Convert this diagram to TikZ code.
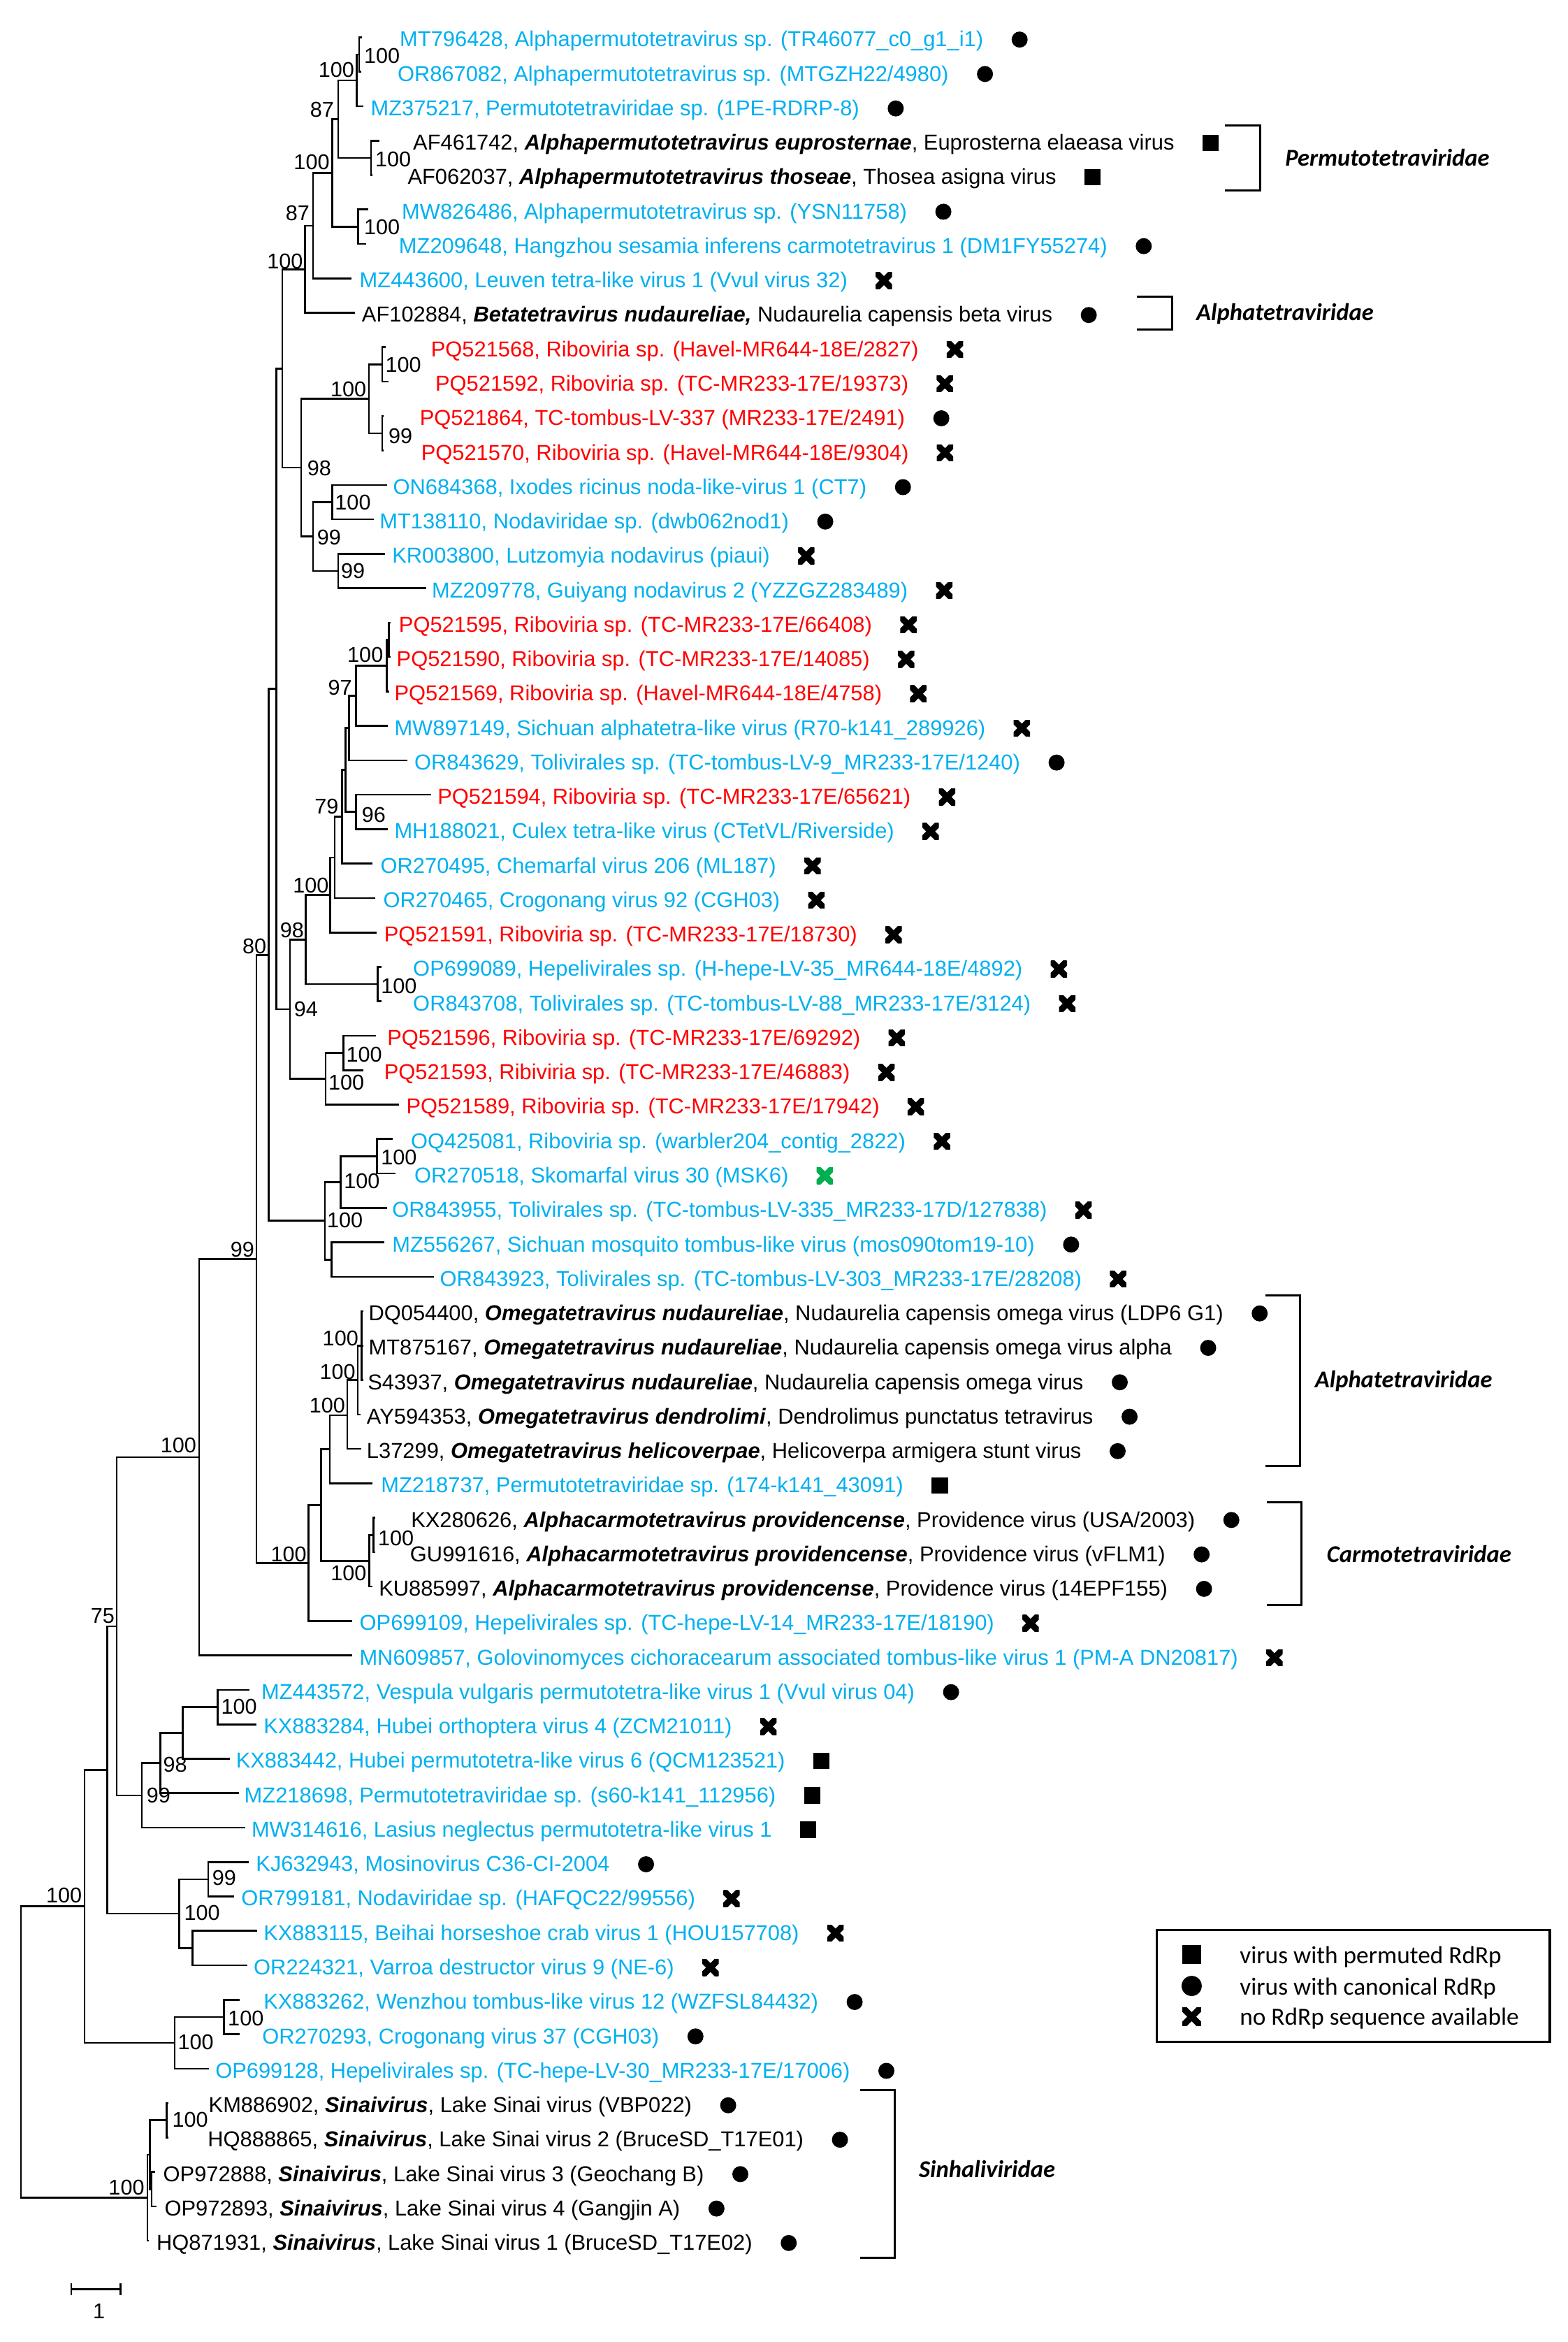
\documentclass[tikz,border=0pt]{standalone}
\usepackage{fontspec}
\setmainfont{Liberation Sans}
\newfontfamily\calfont{Carlito}
\definecolor{seqblue}{RGB}{0,176,240}
\definecolor{seqred}{RGB}{255,0,0}
\definecolor{seqgreen}{RGB}{0,176,80}
\newcommand{\spn}[1]{\textbf{\textit{#1}}}
\tikzset{
  br/.style={line width=0.7pt},
  leaf/.style={anchor=base west,inner sep=0pt,font=\fontsize{8.22}{10}\selectfont},
  bootr/.style={anchor=west,inner sep=0pt,font=\fontsize{8.15}{10}\selectfont},
  bootl/.style={anchor=east,inner sep=0pt,font=\fontsize{8.15}{10}\selectfont},
  dotmk/.style={circle,fill=black,inner sep=0pt,minimum size=0.215cm},
  sqmk/.style={rectangle,fill=black,inner sep=0pt,minimum size=0.22cm},
  xmk/.style={rectangle,inner sep=0pt,minimum size=0.22cm,
    path picture={\draw[line width=0.085cm,#1]
      (path picture bounding box.south west) -- (path picture bounding box.north east)
      (path picture bounding box.north west) -- (path picture bounding box.south east);}},
  xmk/.default=black,
  fam/.style={anchor=base west,inner sep=0pt,font=\calfont\bfseries\itshape\fontsize{9.2}{11}\selectfont},
  legtxt/.style={anchor=base west,inner sep=0pt,font=\calfont\fontsize{9.4}{11}\selectfont},
  bracket/.style={line width=0.8pt}
}
\begin{document}
\begin{tikzpicture}[x=0.02cm,y=-0.02cm]
\useasboundingbox (0,0) rectangle (1050,1568);
% inner nodes of the tree
\coordinate (n1) at (240.5,36.5);
\coordinate (n2) at (239,53.8);
\coordinate (neu) at (248.5,105.7);
\coordinate (n3) at (226.4,79.8);
\coordinate (nmw) at (239.9,151.8);
\coordinate (n4) at (222.6,115.8);
\coordinate (n5) at (209.7,151.1);
\coordinate (n6) at (204.1,180.3);
\coordinate (n568) at (256,244);
\coordinate (n864) at (256,290.1);
\coordinate (nred) at (247,267);
\coordinate (non) at (222.6,336.2);
\coordinate (nkr) at (226.4,382.3);
\coordinate (n99a) at (209.7,359.2);
\coordinate (n98) at (201.7,313.1);
\coordinate (n7) at (189.1,246.7);
\coordinate (n595a) at (260.5,428.4);
\coordinate (n595) at (259,445.7);
\coordinate (n97) at (238.4,465.8);
\coordinate (na) at (233.6,487.4);
\coordinate (n96) at (238.4,543.6);
\coordinate (nb) at (231.5,515.5);
\coordinate (n79) at (229.1,546.9);
\coordinate (nc) at (224.1,574.1);
\coordinate (n100c) at (221.1,599.2);
\coordinate (nop) at (253,658.9);
\coordinate (n98b) at (204.6,629);
\coordinate (n100e) at (230,705);
\coordinate (n100d) at (218.1,722.3);
\coordinate (n94) at (194.2,675.6);
\coordinate (n8) at (185.2,461.2);
\coordinate (n100h) at (252.4,774.1);
\coordinate (n100g) at (228,791.4);
\coordinate (nmz) at (222,843.3);
\coordinate (n100f) at (217.5,817.3);
\coordinate (n9) at (179.9,639.3);
\coordinate (ndq) at (242.2,900.9);
\coordinate (nay) at (239.5,923.95);
\coordinate (n100o) at (232.5,947.5);
\coordinate (nom) at (220.8,970.3);
\coordinate (nkx) at (250.1,1027.7);
\coordinate (ncarm) at (247.3,1045);
\coordinate (noc) at (215,1007.6);
\coordinate (n100k) at (206.6,1046.5);
\coordinate (nX) at (171.8,842.9);
\coordinate (n100j) at (133.3,975.6);
\coordinate (n100v) at (145.7,1142.9);
\coordinate (nkq) at (122.4,1160.2);
\coordinate (n98p) at (107.5,1180.4);
\coordinate (n99p) at (95,1202);
\coordinate (n75) at (78.2,1088.8);
\coordinate (n99k) at (139.4,1258.2);
\coordinate (nvr) at (129,1304.3);
\coordinate (n100u) at (120,1281.2);
\coordinate (n75a) at (71.7,1185);
\coordinate (nwz) at (149.9,1350.4);
\coordinate (n100t) at (117,1367.7);
\coordinate (n100r) at (56.7,1276.35);
\coordinate (nkm) at (111.7,1419.5);
\coordinate (nopp) at (101.5,1465.6);
\coordinate (nsa) at (100.4,1442.6);
\coordinate (n100s) at (98.7,1471.4);
\coordinate (root) at (14,1373.9);
% tips
\coordinate (t1) at (242.6,25);
\coordinate (t2) at (242,48.05);
\coordinate (t3) at (243.5,71.1);
\coordinate (t4) at (253.9,94.15);
\coordinate (t5) at (249.4,117.2);
\coordinate (t6) at (246.5,140.25);
\coordinate (t7) at (245,163.3);
\coordinate (t8) at (235.4,186.35);
\coordinate (t9) at (237.5,209.4);
\coordinate (t10) at (258.4,232.45);
\coordinate (t11) at (260,255.5);
\coordinate (t12) at (257,278.55);
\coordinate (t13) at (257,301.6);
\coordinate (t14) at (259.3,324.65);
\coordinate (t15) at (250.3,347.7);
\coordinate (t16) at (257.8,370.75);
\coordinate (t17) at (285.3,393.8);
\coordinate (t18) at (261.4,416.85);
\coordinate (t19) at (261.5,439.9);
\coordinate (t20) at (260.5,462.95);
\coordinate (t21) at (259.9,486);
\coordinate (t22) at (272.7,509.05);
\coordinate (t23) at (288.9,532.1);
\coordinate (t24) at (259.9,555.15);
\coordinate (t25) at (249.4,578.2);
\coordinate (t26) at (251.5,601.25);
\coordinate (t27) at (252.4,624.3);
\coordinate (t28) at (255.4,647.35);
\coordinate (t29) at (255.4,670.4);
\coordinate (t30) at (251.8,693.45);
\coordinate (t31) at (243.5,716.5);
\coordinate (t32) at (267.4,739.55);
\coordinate (t33) at (262.9,762.6);
\coordinate (t34) at (265,785.65);
\coordinate (t35) at (259.3,808.7);
\coordinate (t36) at (257.2,831.75);
\coordinate (t37) at (290.7,854.8);
\coordinate (t38) at (243.5,877.85);
\coordinate (t39) at (243.5,900.9);
\coordinate (t40) at (243.5,923.95);
\coordinate (t41) at (241.5,947);
\coordinate (t42) at (241.8,970.05);
\coordinate (t43) at (249.6,993.1);
\coordinate (t44) at (251.5,1016.15);
\coordinate (t45) at (251.5,1039.2);
\coordinate (t46) at (249.5,1062.25);
\coordinate (t47) at (235.9,1085.3);
\coordinate (t48) at (235.9,1108.35);
\coordinate (t49) at (167.2,1131.4);
\coordinate (t50) at (171.7,1154.45);
\coordinate (t51) at (153.8,1177.5);
\coordinate (t52) at (159.8,1200.55);
\coordinate (t53) at (164.2,1223.6);
\coordinate (t54) at (166.6,1246.65);
\coordinate (t55) at (156.8,1269.7);
\coordinate (t56) at (172.3,1292.75);
\coordinate (t57) at (165.7,1315.8);
\coordinate (t58) at (160.3,1338.85);
\coordinate (t59) at (160.3,1361.9);
\coordinate (t60) at (139.7,1384.95);
\coordinate (t61) at (113,1408);
\coordinate (t62) at (113,1431.05);
\coordinate (t63) at (103.8,1454.1);
\coordinate (t64) at (104.9,1477.15);
\coordinate (t65) at (99.6,1500.2);
% branches
\draw[br] (n1) |- (t1) (n1) |- (t2);
\draw[br] (n2) |- (n1) (n2) |- (t3);
\draw[br] (neu) |- (t4) (neu) |- (t5);
\draw[br] (n3) |- (n2) (n3) |- (neu);
\draw[br] (nmw) |- (t6) (nmw) |- (t7);
\draw[br] (n4) |- (n3) (n4) |- (nmw);
\draw[br] (n5) |- (n4) (n5) |- (t8);
\draw[br] (n6) |- (n5) (n6) |- (t9);
\draw[br] (n568) |- (t10) (n568) |- (t11);
\draw[br] (n864) |- (t12) (n864) |- (t13);
\draw[br] (nred) |- (n568) (nred) |- (n864);
\draw[br] (non) |- (t14) (non) |- (t15);
\draw[br] (nkr) |- (t16) (nkr) |- (t17);
\draw[br] (n99a) |- (non) (n99a) |- (nkr);
\draw[br] (n98) |- (nred) (n98) |- (n99a);
\draw[br] (n7) |- (n6) (n7) |- (n98);
\draw[br] (n595a) |- (t18) (n595a) |- (t19);
\draw[br] (n595) |- (n595a) (n595) |- (t20);
\draw[br] (n97) |- (n595) (n97) |- (t21);
\draw[br] (na) |- (n97) (na) |- (t22);
\draw[br] (n96) |- (t23) (n96) |- (t24);
\draw[br] (nb) |- (na) (nb) |- (n96);
\draw[br] (n79) |- (nb) (n79) |- (t25);
\draw[br] (nc) |- (n79) (nc) |- (t26);
\draw[br] (n100c) |- (nc) (n100c) |- (t27);
\draw[br] (nop) |- (t28) (nop) |- (t29);
\draw[br] (n98b) |- (n100c) (n98b) |- (nop);
\draw[br] (n100e) |- (t30) (n100e) |- (t31);
\draw[br] (n100d) |- (n100e) (n100d) |- (t32);
\draw[br] (n94) |- (n98b) (n94) |- (n100d);
\draw[br] (n8) |- (n7) (n8) |- (n94);
\draw[br] (n100h) |- (t33) (n100h) |- (t34);
\draw[br] (n100g) |- (n100h) (n100g) |- (t35);
\draw[br] (nmz) |- (t36) (nmz) |- (t37);
\draw[br] (n100f) |- (n100g) (n100f) |- (nmz);
\draw[br] (n9) |- (n8) (n9) |- (n100f);
\draw[br] (ndq) |- (t38) (ndq) |- (t39) (ndq) |- (t40);
\draw[br] (nay) |- (ndq) (nay) |- (t41);
\draw[br] (n100o) |- (nay) (n100o) |- (t42);
\draw[br] (nom) |- (n100o) (nom) |- (t43);
\draw[br] (nkx) |- (t44) (nkx) |- (t45);
\draw[br] (ncarm) |- (nkx) (ncarm) |- (t46);
\draw[br] (noc) |- (nom) (noc) |- (ncarm);
\draw[br] (n100k) |- (noc) (n100k) |- (t47);
\draw[br] (nX) |- (n9) (nX) |- (n100k);
\draw[br] (n100j) |- (nX) (n100j) |- (t48);
\draw[br] (n100v) |- (t49) (n100v) |- (t50);
\draw[br] (nkq) |- (n100v) (nkq) |- (t51);
\draw[br] (n98p) |- (nkq) (n98p) |- (t52);
\draw[br] (n99p) |- (n98p) (n99p) |- (t53);
\draw[br] (n75) |- (n100j) (n75) |- (n99p);
\draw[br] (n99k) |- (t54) (n99k) |- (t55);
\draw[br] (nvr) |- (t56) (nvr) |- (t57);
\draw[br] (n100u) |- (n99k) (n100u) |- (nvr);
\draw[br] (n75a) |- (n75) (n75a) |- (n100u);
\draw[br] (nwz) |- (t58) (nwz) |- (t59);
\draw[br] (n100t) |- (nwz) (n100t) |- (t60);
\draw[br] (n100r) |- (n75a) (n100r) |- (n100t);
\draw[br] (nkm) |- (t61) (nkm) |- (t62);
\draw[br] (nopp) |- (t63) (nopp) |- (t64);
\draw[br] (nsa) |- (nkm) (nsa) |- (nopp);
\draw[br] (n100s) |- (nsa) (n100s) |- (t65);
\draw[br] (root) |- (n100r) (root) |- (n100s);
% bootstrap values
\node[bootr] (b1) at (243.5,37.5) {100};
\node[bootl] (b2) at (237.5,46.8) {100};
\node[bootl] (b3) at (224,73.3) {87};
\node[bootr] (beu) at (251,106.9) {100};
\node[bootl] (b4) at (221,108.5) {100};
\node[bootl] (b5) at (207.6,142.8) {87};
\node[bootr] (bmw) at (243.5,152) {100};
\node[bootl] (b6) at (203.2,174.8) {100};
\node[bootr] (b568) at (257.8,244.2) {100};
\node[bootl] (bred) at (245.6,260.6) {100};
\node[bootr] (b864) at (259.9,291.8) {99};
\node[bootr] (b98) at (205.5,313.3) {98};
\node[bootr] (bon) at (224,336.3) {100};
\node[bootr] (b99a) at (212,359.7) {99};
\node[bootr] (bkr) at (228,382.3) {99};
\node[bootl] (b595) at (256.9,438.5) {100};
\node[bootl] (b97) at (236,460.3) {97};
\node[bootl] (b79) at (227,539.9) {79};
\node[bootr] (b96) at (242,545.4) {96};
\node[bootl] (b100c) at (220.5,593) {100};
\node[bootl] (b98b) at (203.8,622.6) {98};
\node[bootl] (b9) at (178.7,633.6) {80};
\node[bootr] (bop) at (254.8,660) {100};
\node[bootr] (b94) at (196.6,675.7) {94};
\node[bootr] (b100e) at (231.5,706.1) {100};
\node[bootr] (b100d) at (219.6,724.8) {100};
\node[bootr] (b100h) at (254.8,774.7) {100};
\node[bootr] (b100g) at (230,790.8) {100};
\node[bootr] (b100f) at (218.7,816.9) {100};
\node[bootl] (bX) at (170.6,836.5) {99};
\node[bootl] (bdq) at (240.3,895.9) {100};
\node[bootl] (bay) at (238.4,918.4) {100};
\node[bootl] (b100o) at (231.5,941) {100};
\node[bootl] (b100j) at (131.8,967.8) {100};
\node[bootr] (bkx) at (252.8,1029.9) {100};
\node[bootl] (b100k) at (205.6,1040.5) {100};
\node[bootl] (bcarm) at (245.7,1053.3) {100};
\node[bootl] (b75) at (77,1081.8) {75};
\node[bootr] (b100v) at (147.8,1142.8) {100};
\node[bootr] (b98p) at (109,1181.3) {98};
\node[bootr] (b99p) at (97.9,1202.2) {99};
\node[bootr] (b99k) at (141.8,1257.4) {99};
\node[bootl] (b100r) at (55.2,1269.1) {100};
\node[bootr] (b100u) at (123,1280.8) {100};
\node[bootr] (bwz) at (152.3,1351.1) {100};
\node[bootr] (b100t) at (118.8,1367.4) {100};
\node[bootr] (bkm) at (115,1419.3) {100};
\node[bootl] (b100s) at (97,1464.6) {100};
% taxa
\node[leaf,seqblue] (l1) at (267.4,31.3) {MT796428, Alphapermutotetravirus sp. (TR46077\_c0\_g1\_i1)};
\node[leaf,seqblue] (l2) at (265.9,54.35) {OR867082, Alphapermutotetravirus sp. (MTGZH22/4980)};
\node[leaf,seqblue] (l3) at (247.9,77.4) {MZ375217, Permutotetraviridae sp. (1PE-RDRP-8)};
\node[leaf] (l4) at (276.3,100.45) {AF461742, \spn{Alphapermutotetravirus euprosternae}, Euprosterna elaeasa virus};
\node[leaf] (l5) at (272.7,123.5) {AF062037, \spn{Alphapermutotetravirus thoseae}, Thosea asigna virus};
\node[leaf,seqblue] (l6) at (268.8,146.55) {MW826486, Alphapermutotetravirus sp. (YSN11758)};
\node[leaf,seqblue] (l7) at (266.8,169.6) {MZ209648, Hangzhou sesamia inferens carmotetravirus 1 (DM1FY55274)};
\node[leaf,seqblue] (l8) at (240.5,192.65) {MZ443600, Leuven tetra-like virus 1 (Vvul virus 32)};
\node[leaf] (l9) at (242,215.7) {AF102884, \spn{Betatetravirus nudaureliae,} Nudaurelia capensis beta virus};
\node[leaf,seqred] (l10) at (288.3,238.75) {PQ521568, Riboviria sp. (Havel-MR644-18E/2827)};
\node[leaf,seqred] (l11) at (291.2,261.8) {PQ521592, Riboviria sp. (TC-MR233-17E/19373)};
\node[leaf,seqred] (l12) at (280.8,284.85) {PQ521864, TC-tombus-LV-337 (MR233-17E/2491)};
\node[leaf,seqred] (l13) at (281.7,307.9) {PQ521570, Riboviria sp. (Havel-MR644-18E/9304)};
\node[leaf,seqblue] (l14) at (262.9,330.95) {ON684368, Ixodes ricinus noda-like-virus 1 (CT7)};
\node[leaf,seqblue] (l15) at (253.9,354) {MT138110, Nodaviridae sp. (dwb062nod1)};
\node[leaf,seqblue] (l16) at (262.3,377.05) {KR003800, Lutzomyia nodavirus (piaui)};
\node[leaf,seqblue] (l17) at (288.9,400.1) {MZ209778, Guiyang nodavirus 2 (YZZGZ283489)};
\node[leaf,seqred] (l18) at (266.8,423.15) {PQ521595, Riboviria sp. (TC-MR233-17E/66408)};
\node[leaf,seqred] (l19) at (265.3,446.2) {PQ521590, Riboviria sp. (TC-MR233-17E/14085)};
\node[leaf,seqred] (l20) at (263.8,469.25) {PQ521569, Riboviria sp. (Havel-MR644-18E/4758)};
\node[leaf,seqblue] (l21) at (263.8,492.3) {MW897149, Sichuan alphatetra-like virus (R70-k141\_289926)};
\node[leaf,seqblue] (l22) at (277.2,515.35) {OR843629, Tolivirales sp. (TC-tombus-LV-9\_MR233-17E/1240)};
\node[leaf,seqred] (l23) at (292.7,538.4) {PQ521594, Riboviria sp. (TC-MR233-17E/65621)};
\node[leaf,seqblue] (l24) at (263.8,561.45) {MH188021, Culex tetra-like virus (CTetVL/Riverside)};
\node[leaf,seqblue] (l25) at (254.5,584.5) {OR270495, Chemarfal virus 206 (ML187)};
\node[leaf,seqblue] (l26) at (256.3,607.55) {OR270465, Crogonang virus 92 (CGH03)};
\node[leaf,seqred] (l27) at (256.9,630.6) {PQ521591, Riboviria sp. (TC-MR233-17E/18730)};
\node[leaf,seqblue] (l28) at (276.3,653.65) {OP699089, Hepelivirales sp. (H-hepe-LV-35\_MR644-18E/4892)};
\node[leaf,seqblue] (l29) at (276.3,676.7) {OR843708, Tolivirales sp. (TC-tombus-LV-88\_MR233-17E/3124)};
\node[leaf,seqred] (l30) at (259,699.75) {PQ521596, Riboviria sp. (TC-MR233-17E/69292)};
\node[leaf,seqred] (l31) at (256.9,722.8) {PQ521593, Ribiviria sp. (TC-MR233-17E/46883)};
\node[leaf,seqred] (l32) at (271.8,745.85) {PQ521589, Riboviria sp. (TC-MR233-17E/17942)};
\node[leaf,seqblue] (l33) at (274.8,768.9) {OQ425081, Riboviria sp. (warbler204\_contig\_2822)};
\node[leaf,seqblue] (l34) at (277.2,791.95) {OR270518, Skomarfal virus 30 (MSK6)};
\node[leaf,seqblue] (l35) at (262.3,815) {OR843955, Tolivirales sp. (TC-tombus-LV-335\_MR233-17D/127838)};
\node[leaf,seqblue] (l36) at (262.3,838.05) {MZ556267, Sichuan mosquito tombus-like virus (mos090tom19-10)};
\node[leaf,seqblue] (l37) at (294.3,861.1) {OR843923, Tolivirales sp. (TC-tombus-LV-303\_MR233-17E/28208)};
\node[leaf] (l38) at (246.5,884.15) {DQ054400, \spn{Omegatetravirus nudaureliae}, Nudaurelia capensis omega virus (LDP6 G1)};
\node[leaf] (l39) at (246.5,907.2) {MT875167, \spn{Omegatetravirus nudaureliae}, Nudaurelia capensis omega virus alpha};
\node[leaf] (l40) at (245.9,930.25) {S43937, \spn{Omegatetravirus nudaureliae}, Nudaurelia capensis omega virus};
\node[leaf] (l41) at (245.3,953.3) {AY594353, \spn{Omegatetravirus dendrolimi}, Dendrolimus punctatus tetravirus};
\node[leaf] (l42) at (245.3,976.35) {L37299, \spn{Omegatetravirus helicoverpae}, Helicoverpa armigera stunt virus};
\node[leaf,seqblue] (l43) at (254.8,999.4) {MZ218737, Permutotetraviridae sp. (174-k141\_43091)};
\node[leaf] (l44) at (274.9,1022.45) {KX280626, \spn{Alphacarmotetravirus providencense}, Providence virus (USA/2003)};
\node[leaf] (l45) at (274.3,1045.5) {GU991616, \spn{Alphacarmotetravirus providencense}, Providence virus (vFLM1)};
\node[leaf] (l46) at (253.4,1068.55) {KU885997, \spn{Alphacarmotetravirus providencense}, Providence virus (14EPF155)};
\node[leaf,seqblue] (l47) at (240.5,1091.6) {OP699109, Hepelivirales sp. (TC-hepe-LV-14\_MR233-17E/18190)};
\node[leaf,seqblue] (l48) at (240.4,1114.65) {MN609857, Golovinomyces cichoracearum associated tombus-like virus 1 (PM-A DN20817)};
\node[leaf,seqblue] (l49) at (174.7,1137.7) {MZ443572, Vespula vulgaris permutotetra-like virus 1 (Vvul virus 04)};
\node[leaf,seqblue] (l50) at (176.2,1160.75) {KX883284, Hubei orthoptera virus 4 (ZCM21011)};
\node[leaf,seqblue] (l51) at (157.7,1183.8) {KX883442, Hubei permutotetra-like virus 6 (QCM123521)};
\node[leaf,seqblue] (l52) at (163.3,1206.85) {MZ218698, Permutotetraviridae sp. (s60-k141\_112956)};
\node[leaf,seqblue] (l53) at (168.1,1229.9) {MW314616, Lasius neglectus permutotetra-like virus 1};
\node[leaf,seqblue] (l54) at (171.1,1252.95) {KJ632943, Mosinovirus C36-CI-2004};
\node[leaf,seqblue] (l55) at (161.2,1276) {OR799181, Nodaviridae sp. (HAFQC22/99556)};
\node[leaf,seqblue] (l56) at (176.2,1299.05) {KX883115, Beihai horseshoe crab virus 1 (HOU157708)};
\node[leaf,seqblue] (l57) at (169.6,1322.1) {OR224321, Varroa destructor virus 9 (NE-6)};
\node[leaf,seqblue] (l58) at (176.2,1345.15) {KX883262, Wenzhou tombus-like virus 12 (WZFSL84432)};
\node[leaf,seqblue] (l59) at (175.3,1368.2) {OR270293, Crogonang virus 37 (CGH03)};
\node[leaf,seqblue] (l60) at (143.9,1391.25) {OP699128, Hepelivirales sp. (TC-hepe-LV-30\_MR233-17E/17006)};
\node[leaf] (l61) at (139.4,1414.3) {KM886902, \spn{Sinaivirus}, Lake Sinai virus (VBP022)};
\node[leaf] (l62) at (138.8,1437.35) {HQ888865, \spn{Sinaivirus}, Lake Sinai virus 2 (BruceSD\_T17E01)};
\node[leaf] (l63) at (109,1460.4) {OP972888, \spn{Sinaivirus}, Lake Sinai virus 3 (Geochang B)};
\node[leaf] (l64) at (109.9,1483.45) {OP972893, \spn{Sinaivirus}, Lake Sinai virus 4 (Gangjin A)};
\node[leaf] (l65) at (104.5,1506.5) {HQ871931, \spn{Sinaivirus}, Lake Sinai virus 1 (BruceSD\_T17E02)};
% RdRp marks
\node[dotmk] (m1) at ([shift={(24,-4.8)}]l1.base east) {};
\node[dotmk] (m2) at ([shift={(24,-4.8)}]l2.base east) {};
\node[dotmk] (m3) at ([shift={(24,-4.8)}]l3.base east) {};
\node[sqmk] (m4) at ([shift={(24,-4.8)}]l4.base east) {};
\node[sqmk] (m5) at ([shift={(24,-4.8)}]l5.base east) {};
\node[dotmk] (m6) at ([shift={(24,-4.8)}]l6.base east) {};
\node[dotmk] (m7) at ([shift={(24,-4.8)}]l7.base east) {};
\node[xmk] (m8) at ([shift={(24,-4.8)}]l8.base east) {};
\node[dotmk] (m9) at ([shift={(24,-4.8)}]l9.base east) {};
\node[xmk] (m10) at ([shift={(24,-4.8)}]l10.base east) {};
\node[xmk] (m11) at ([shift={(24,-4.8)}]l11.base east) {};
\node[dotmk] (m12) at ([shift={(24,-4.8)}]l12.base east) {};
\node[xmk] (m13) at ([shift={(24,-4.8)}]l13.base east) {};
\node[dotmk] (m14) at ([shift={(24,-4.8)}]l14.base east) {};
\node[dotmk] (m15) at ([shift={(24,-4.8)}]l15.base east) {};
\node[xmk] (m16) at ([shift={(24,-4.8)}]l16.base east) {};
\node[xmk] (m17) at ([shift={(24,-4.8)}]l17.base east) {};
\node[xmk] (m18) at ([shift={(24,-4.8)}]l18.base east) {};
\node[xmk] (m19) at ([shift={(24,-4.8)}]l19.base east) {};
\node[xmk] (m20) at ([shift={(24,-4.8)}]l20.base east) {};
\node[xmk] (m21) at ([shift={(24,-4.8)}]l21.base east) {};
\node[dotmk] (m22) at ([shift={(24,-4.8)}]l22.base east) {};
\node[xmk] (m23) at ([shift={(24,-4.8)}]l23.base east) {};
\node[xmk] (m24) at ([shift={(24,-4.8)}]l24.base east) {};
\node[xmk] (m25) at ([shift={(24,-4.8)}]l25.base east) {};
\node[xmk] (m26) at ([shift={(24,-4.8)}]l26.base east) {};
\node[xmk] (m27) at ([shift={(24,-4.8)}]l27.base east) {};
\node[xmk] (m28) at ([shift={(24,-4.8)}]l28.base east) {};
\node[xmk] (m29) at ([shift={(24,-4.8)}]l29.base east) {};
\node[xmk] (m30) at ([shift={(24,-4.8)}]l30.base east) {};
\node[xmk] (m31) at ([shift={(24,-4.8)}]l31.base east) {};
\node[xmk] (m32) at ([shift={(24,-4.8)}]l32.base east) {};
\node[xmk] (m33) at ([shift={(24,-4.8)}]l33.base east) {};
\node[xmk=seqgreen] (m34) at ([shift={(24,-4.8)}]l34.base east) {};
\node[xmk] (m35) at ([shift={(24,-4.8)}]l35.base east) {};
\node[dotmk] (m36) at ([shift={(24,-4.8)}]l36.base east) {};
\node[xmk] (m37) at ([shift={(24,-4.8)}]l37.base east) {};
\node[dotmk] (m38) at ([shift={(24,-4.8)}]l38.base east) {};
\node[dotmk] (m39) at ([shift={(24,-4.8)}]l39.base east) {};
\node[dotmk] (m40) at ([shift={(24,-4.8)}]l40.base east) {};
\node[dotmk] (m41) at ([shift={(24,-4.8)}]l41.base east) {};
\node[dotmk] (m42) at ([shift={(24,-4.8)}]l42.base east) {};
\node[sqmk] (m43) at ([shift={(24,-4.8)}]l43.base east) {};
\node[dotmk] (m44) at ([shift={(24,-4.8)}]l44.base east) {};
\node[dotmk] (m45) at ([shift={(24,-4.8)}]l45.base east) {};
\node[dotmk] (m46) at ([shift={(24,-4.8)}]l46.base east) {};
\node[xmk] (m47) at ([shift={(24,-4.8)}]l47.base east) {};
\node[xmk] (m48) at ([shift={(24,-4.8)}]l48.base east) {};
\node[dotmk] (m49) at ([shift={(24,-4.8)}]l49.base east) {};
\node[xmk] (m50) at ([shift={(24,-4.8)}]l50.base east) {};
\node[sqmk] (m51) at ([shift={(24,-4.8)}]l51.base east) {};
\node[sqmk] (m52) at ([shift={(24,-4.8)}]l52.base east) {};
\node[sqmk] (m53) at ([shift={(24,-4.8)}]l53.base east) {};
\node[dotmk] (m54) at ([shift={(24,-4.8)}]l54.base east) {};
\node[xmk] (m55) at ([shift={(24,-4.8)}]l55.base east) {};
\node[xmk] (m56) at ([shift={(24,-4.8)}]l56.base east) {};
\node[xmk] (m57) at ([shift={(24,-4.8)}]l57.base east) {};
\node[dotmk] (m58) at ([shift={(24,-4.8)}]l58.base east) {};
\node[dotmk] (m59) at ([shift={(24,-4.8)}]l59.base east) {};
\node[dotmk] (m60) at ([shift={(24,-4.8)}]l60.base east) {};
\node[dotmk] (m61) at ([shift={(24,-4.8)}]l61.base east) {};
\node[dotmk] (m62) at ([shift={(24,-4.8)}]l62.base east) {};
\node[dotmk] (m63) at ([shift={(24,-4.8)}]l63.base east) {};
\node[dotmk] (m64) at ([shift={(24,-4.8)}]l64.base east) {};
\node[dotmk] (m65) at ([shift={(24,-4.8)}]l65.base east) {};
% families
\draw[bracket] (820.3,83.9) -| (843.7,127.5) -- (820.3,127.5);
\node[fam] (fperm) at (860.3,111.1) {Permutotetraviridae};
\draw[bracket] (761.1,198.5) -| (784.9,220.8) -- (761.1,220.8);
\node[fam] (falpha1) at (800.8,214.6) {Alphatetraviridae};
\draw[bracket] (847.3,867.2) -| (870.4,981.3) -- (847.3,981.3);
\node[fam] (falpha2) at (880.2,928.9) {Alphatetraviridae};
\draw[bracket] (848.1,1005.8) -| (871.3,1074.4) -- (848.1,1074.4);
\node[fam] (fcarmo) at (888.2,1045.9) {Carmotetraviridae};
\draw[bracket] (576.1,1399.1) -| (599.3,1511.4) -- (576.1,1511.4);
\node[fam] (fsinh) at (615,1458) {Sinhaliviridae};
% legend
\draw[line width=0.85pt] (774.6,1292.2) rectangle (1037.8,1367);
\node[sqmk,minimum size=0.255cm] (ksq) at (798,1308.5) {};
\node[dotmk,minimum size=0.27cm] (kdot) at (798,1329.6) {};
\node[xmk,minimum size=0.25cm] (kx) at (798,1350.2) {};
\node[legtxt] (tsq) at (829.9,1314.8) {virus with permuted RdRp};
\node[legtxt] (tdot) at (829.9,1335.5) {virus with canonical RdRp};
\node[legtxt] (tx) at (829.9,1356) {no RdRp sequence available};
% scale bar
\draw[br] (47.8,1532.6) -- (80.6,1532.6);
\draw[br] (47.8,1528.6) -- (47.8,1536.5) (80.6,1528.6) -- (80.6,1536.5);
\node[bootl,anchor=center] (sbar) at (66.3,1547.2) {1};
\end{tikzpicture}
\end{document}
